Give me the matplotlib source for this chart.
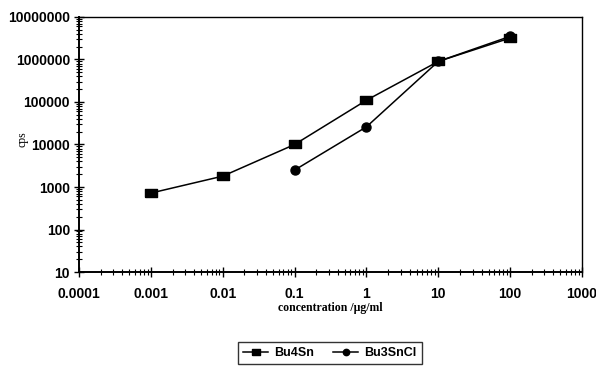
import matplotlib.pyplot as plt
import numpy as np
from matplotlib.ticker import LogLocator, FixedLocator, NullFormatter

# concentration (ug/ml) vs counts per second
conc_bu4sn = [0.001, 0.01, 0.1, 1, 10, 100]
cps_bu4sn = [720, 1800, 10000, 110000, 900000, 3200000]
conc_bu3sncl = [0.1, 1, 10, 100]
cps_bu3sncl = [2500, 26000, 900000, 3500000]

x_ticks = [0.0001, 0.001, 0.01, 0.1, 1, 10, 100, 1000]
x_labels = ['0.0001', '0.001', '0.01', '0.1', '1', '10', '100', '1000']
y_ticks = [10, 100, 1000, 10000, 100000, 1000000, 10000000]
y_labels = ['10', '100', '1000', '10000', '100000', '1000000', '10000000']

# wide rectangle marker for Bu4Sn
rect = [(-1.5, -1), (1.5, -1), (1.5, 1), (-1.5, 1), (-1.5, -1)]

fig = plt.figure(figsize=(5.96, 3.66), dpi=100)
ax = fig.add_axes([0.1326, 0.2568, 0.8439, 0.6968])

l1, = ax.plot(conc_bu4sn, cps_bu4sn, color='black', lw=1.1, marker=rect,
              markersize=8, label='Bu4Sn')
l2, = ax.plot(conc_bu3sncl, cps_bu3sncl, color='black', lw=1.1, marker='o',
              markersize=6.5, label='Bu3SnCl')

ax.set_xscale('log')
ax.set_yscale('log')
ax.set_xlim(0.0001, 1000)
ax.set_ylim(10, 10000000)

ax.xaxis.set_major_locator(FixedLocator(x_ticks))
ax.set_xticklabels(x_labels)
ax.yaxis.set_major_locator(FixedLocator(y_ticks))
ax.set_yticklabels(y_labels)
ax.xaxis.set_minor_locator(LogLocator(base=10, subs=np.arange(2, 10), numticks=20))
ax.yaxis.set_minor_locator(LogLocator(base=10, subs=np.arange(2, 10), numticks=20))
ax.xaxis.set_minor_formatter(NullFormatter())
ax.yaxis.set_minor_formatter(NullFormatter())

ax.tick_params(which='major', direction='inout', length=7, width=1.0,
               labelsize=10, pad=3)
ax.tick_params(axis='x', which='major', pad=7)
ax.tick_params(which='minor', direction='inout', length=4, width=0.8)
for lab in ax.get_xticklabels() + ax.get_yticklabels():
    lab.set_family('Liberation Sans')
    lab.set_fontweight('bold')

for side in ['left', 'bottom']:
    ax.spines[side].set_linewidth(1.4)
for side in ['top', 'right']:
    ax.spines[side].set_linewidth(1.0)

ax.set_ylabel('cps', family='Liberation Serif', fontsize=8.5, labelpad=-1)
ax.yaxis.set_label_coords(-0.1, 0.52)
ax.set_xlabel('concentration /µg/ml', family='Liberation Serif', fontsize=8.5,
              fontweight='bold', labelpad=1)

leg = fig.legend(handles=[l1, l2], loc='center', bbox_to_anchor=(330 / 596, 1 - 353 / 366),
                 ncol=2, frameon=True, fancybox=False, edgecolor='black',
                 prop={'family': 'Liberation Sans', 'weight': 'bold', 'size': 9},
                 handlelength=2.0, columnspacing=1.5, borderpad=0.4, handletextpad=0.5,
                 markerscale=0.7)
leg.get_frame().set_linewidth(1.0)

fig.savefig('out.png', dpi=100)
